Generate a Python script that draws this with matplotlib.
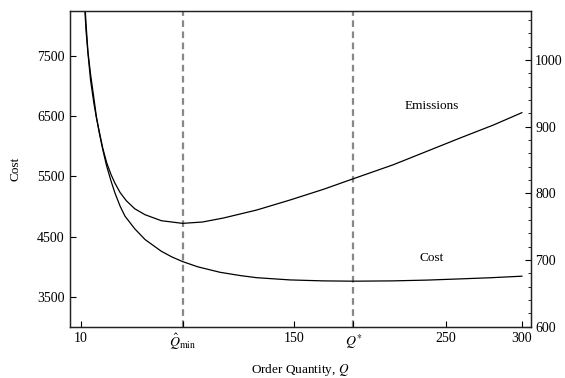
import numpy as np
import matplotlib
matplotlib.use("Agg")
import matplotlib.pyplot as plt

plt.rcParams['font.family'] = ['Liberation Serif', 'DejaVu Serif']
plt.rcParams['mathtext.fontset'] = 'stix'

# Cost curve (left axis)
q_cost = [12.3, 13.5, 14.8, 16.5, 18.7, 20.3, 22.2, 24.5, 27.1, 30, 32.6, 36, 39.1,
          45.5, 52.3, 63, 70, 77, 87.1, 101.6, 115, 125.7, 147.6, 169.5, 189.3,
          215, 237.5, 259.4, 280, 300]
cost = [8600, 8050, 7570, 7200, 6800, 6500, 6230, 5950, 5670, 5420, 5220, 5000, 4840,
        4630, 4450, 4255, 4160, 4083, 3995, 3905, 3850, 3815, 3778, 3762, 3757,
        3762, 3775, 3795, 3815, 3840]

# Emissions curve (right axis)
q_emis = [12.3, 13.5, 14.8, 16.5, 18.7, 20.3, 22.2, 24.5, 27.1, 30, 32.6, 36, 40,
          45.5, 52.3, 63, 77, 90, 103.8, 125.7, 147.6, 169.5, 189.3, 215.6,
          237.5, 259.4, 281.3, 300]
emis = [1095, 1045, 1010, 970, 935, 914, 893, 868, 846, 828, 815, 801, 789,
        777, 768, 759, 755, 757, 763, 775, 790, 806, 822, 843,
        863, 883, 902.5, 921]

q_min = 77
q_star = 189.3
x_ticks = [10, q_min, 150, q_star, 250, 300]
x_labels = ['10', r'$\hat{Q}_{\min}$', '150', r'$Q^{*}$', '250', '300']

fig = plt.figure(figsize=(5.65, 3.78), dpi=100)
ax = fig.add_axes([0.1239, 0.1357, 0.8159, 0.8352])
ax2 = ax.twinx()

ax.plot(q_cost, cost, color='black', lw=0.9)
ax2.plot(q_emis, emis, color='black', lw=0.9)

for q in (q_min, q_star):
    ax.axvline(q, color='#888888', lw=1.6, ls=(0, (3, 2)), zorder=0)

ax.set_xlim(3, 306)
ax.set_ylim(3000, 8250)
ax2.set_ylim(600, 1073.5)

ax.set_xticks(x_ticks)
ax.set_xticklabels(x_labels)
ax.set_yticks([3500, 4500, 5500, 6500, 7500])
ax2.set_yticks([600, 700, 800, 900, 1000])
ax2.set_yticks(np.arange(600, 1070, 20), minor=True)

ax.tick_params(axis='both', direction='in', length=4, width=0.8, labelsize=10,
               top=False, right=False, pad=4)
ax2.tick_params(axis='y', which='major', direction='in', length=4, width=0.8,
                labelsize=10, pad=3)
ax2.tick_params(axis='y', which='minor', direction='in', length=2, width=0.6)

for a in (ax, ax2):
    for s in a.spines.values():
        s.set_linewidth(0.9)
        s.set_color('#222222')

ax.text(241, 6662, 'Emissions', ha='center', va='center', fontsize=9.5)
ax.text(241, 4145, 'Cost', ha='center', va='center', fontsize=9.5)

ax.set_xlabel('Order Quantity, $Q$', fontsize=9.5, labelpad=7)
ax.set_ylabel('Cost', fontsize=9.5, labelpad=11)

fig.savefig('out.png', dpi=100)
